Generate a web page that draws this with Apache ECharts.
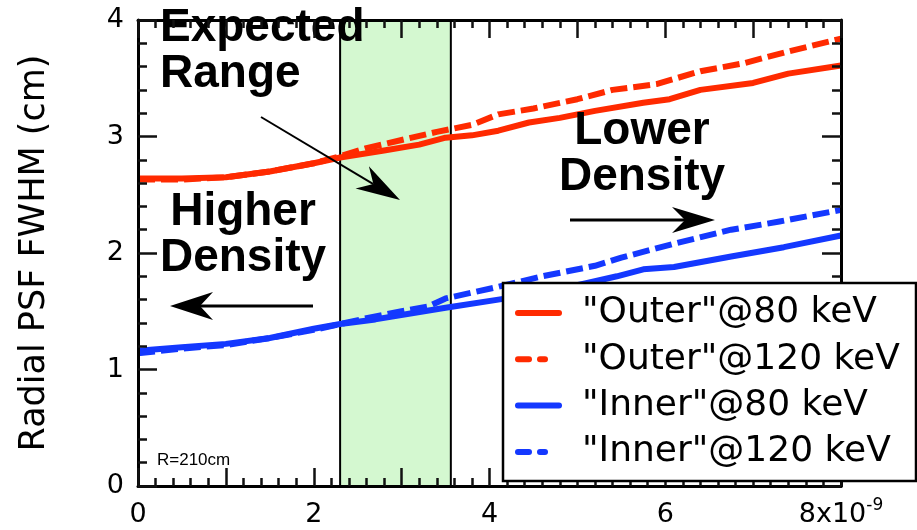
<!DOCTYPE html>
<html>
<head>
<meta charset="utf-8">
<script src="https://cdn.jsdelivr.net/npm/echarts@6/dist/echarts.min.js"></script>
<style>
  html, body { margin: 0; padding: 0; background: #fff; }
  .layer { width: 917px; height: 530px; position: absolute; left: 0; top: 0; }
</style>
</head>
<body>
<div class="layer" id="chart"></div>
<div class="layer" id="frame"></div>
<script>
// Density (x10^-9) versus radial PSF width (cm) for the two detector regions.
const outer80X  = [0, 0.5, 1.0, 1.5, 2.0, 2.3, 2.8, 3.2, 3.5, 3.8, 4.1, 4.45, 4.8, 5.2, 5.75, 6.05, 6.4, 7.0, 7.4, 8.0];
const outer80Y  = [2.64, 2.64, 2.65, 2.70, 2.77, 2.82, 2.88, 2.93, 2.99, 3.01, 3.05, 3.12, 3.16, 3.22, 3.29, 3.32, 3.40, 3.46, 3.54, 3.61];

const outer120X = [0, 0.5, 1.0, 1.5, 2.0, 2.3, 2.6, 3.0, 3.4, 3.8, 4.1, 4.5, 5.0, 5.4, 5.9, 6.4, 6.9, 7.4, 8.0];
const outer120Y = [2.63, 2.63, 2.65, 2.70, 2.77, 2.83, 2.90, 2.97, 3.04, 3.10, 3.19, 3.24, 3.32, 3.40, 3.45, 3.56, 3.63, 3.73, 3.84];

const inner80X  = [0, 0.5, 1.0, 1.5, 2.0, 2.3, 2.7, 3.1, 3.5, 4.1, 4.6, 5.1, 5.45, 5.75, 6.1, 6.75, 7.35, 8.0];
const inner80Y  = [1.16, 1.19, 1.22, 1.27, 1.35, 1.39, 1.43, 1.48, 1.53, 1.60, 1.66, 1.74, 1.80, 1.86, 1.88, 1.97, 2.05, 2.15];

const inner120X = [0, 0.5, 1.0, 1.5, 2.0, 2.3, 2.6, 3.0, 3.3, 3.5, 4.1, 4.6, 5.2, 5.5, 6.1, 6.75, 7.3, 8.0];
const inner120Y = [1.14, 1.18, 1.21, 1.27, 1.34, 1.39, 1.44, 1.50, 1.54, 1.61, 1.71, 1.80, 1.89, 1.96, 2.08, 2.20, 2.27, 2.37];

const seriesNames = ['"Outer"@80 keV', '"Outer"@120 keV', '"Inner"@80 keV', '"Inner"@120 keV'];
const xMantissa = '8x10';
const xExponent = '-9';
const expectedRange = [2.3, 3.56];

const RED = '#ff2a00';
const BLUE = '#1438ff';
const FONT = 'DejaVu Sans';
const BOLD = 'Liberation Sans';

const pairs = (xs, ys) => xs.map((x, i) => [x, ys[i]]);

// ---------- data layer: band, curves and annotations ----------
function lineSeries(name, data, color, dashed) {
  return {
    name, type: 'line', data, symbol: 'none', smooth: false, z: 3,
    lineStyle: { color, width: 6, type: dashed ? [17, 6] : 'solid', cap: 'butt', join: 'round' },
    itemStyle: { color }
  };
}

// Arrow built from a shaft and a notched head, in pixel space.
function arrow(x1, y1, x2, y2, headLen, headHalf, notch, width) {
  const dx = x2 - x1, dy = y2 - y1, L = Math.hypot(dx, dy);
  const ux = dx / L, uy = dy / L, nx = -uy, ny = ux;
  const bx = x2 - ux * headLen, by = y2 - uy * headLen;
  const kx = x2 - ux * (headLen - notch), ky = y2 - uy * (headLen - notch);
  return [
    { type: 'polyline', z: 10, shape: { points: [[x1, y1], [kx, ky]] }, style: { stroke: '#000', lineWidth: width, fill: null } },
    { type: 'polygon', z: 10, shape: { points: [[x2, y2], [bx + nx * headHalf, by + ny * headHalf], [kx, ky], [bx - nx * headHalf, by - ny * headHalf]] },
      style: { fill: '#000' } }
  ];
}

function boldText(x, y, text, align) {
  return {
    type: 'text', z: 10, x, y,
    style: { text, fill: '#000', font: 'bold 46px "' + BOLD + '"', lineHeight: 46, align, verticalAlign: 'top' }
  };
}

const hiddenAxis = (min, max) => ({
  type: 'value', min, max, interval: 1,
  axisLine: { show: false }, axisTick: { show: false }, axisLabel: { show: false }, splitLine: { show: false }
});

echarts.init(document.getElementById('chart')).setOption({
  animation: false,
  grid: { left: 138, right: 76, top: 20, bottom: 44 },
  xAxis: hiddenAxis(0, 8),
  yAxis: hiddenAxis(0, 4),
  series: [
    {
      name: 'band', type: 'line', data: [], z: 1,
      markArea: {
        silent: true,
        itemStyle: { color: '#d4f8d0', borderColor: '#000', borderWidth: 2 },
        data: [[{ xAxis: expectedRange[0], yAxis: 0 }, { xAxis: expectedRange[1], yAxis: 4 }]]
      }
    },
    lineSeries(seriesNames[0], pairs(outer80X, outer80Y), RED, false),
    lineSeries(seriesNames[1], pairs(outer120X, outer120Y), RED, true),
    lineSeries(seriesNames[2], pairs(inner80X, inner80Y), BLUE, false),
    lineSeries(seriesNames[3], pairs(inner120X, inner120Y), BLUE, true)
  ],
  graphic: [
    boldText(160, 5, 'Expected\nRange', 'left'),
    boldText(243, 189, 'Higher\nDensity', 'center'),
    boldText(642, 108, 'Lower\nDensity', 'center'),
    ...arrow(261, 117, 400, 200, 44, 13, 13, 2),
    ...arrow(313, 306, 170, 306, 43, 14, 13, 3),
    ...arrow(570, 220, 715, 220, 43, 13, 13, 3),
    { type: 'text', z: 10, x: 157, y: 460,
      style: { text: 'R=210cm', fill: '#000', font: '17px "Liberation Sans"', verticalAlign: 'middle' } }
  ]
});

// ---------- frame layer: boxed axes with inward ticks, and the key ----------
const tk = { color: '#111', width: 2.5 };

const xa = (pos, lab) => ({
  type: 'value', position: pos, min: 0, max: 8, interval: 1,
  axisLine: { show: true, onZero: false, lineStyle: { color: '#000', width: 3 } },
  axisTick: { show: true, inside: true, length: 18, lineStyle: tk },
  minorTick: { show: true, splitNumber: 5, length: 8, lineStyle: tk },
  splitLine: { show: false },
  axisLabel: !lab ? { show: false } : {
    show: true, margin: 11, color: '#000', fontFamily: FONT, fontSize: 27,
    formatter: v => (v % 2 ? '' : (v === 8 ? '{m|' + xMantissa + '}{e|' + xExponent + '}' : '{m|' + v + '}')),
    rich: {
      m: { fontFamily: FONT, fontSize: 27, lineHeight: 27, padding: [9, 0, 0, 0] },
      e: { fontFamily: FONT, fontSize: 17, lineHeight: 17, verticalAlign: 'top' }
    }
  }
});

const ya = (pos, lab) => {
  const a = {
    type: 'value', position: pos, min: 0, max: 4, interval: 1,
    axisLine: { show: true, onZero: false, lineStyle: { color: '#000', width: 3 } },
    axisTick: { show: true, inside: true, length: 19, lineStyle: tk },
    minorTick: { show: true, splitNumber: 5, length: 9, lineStyle: tk },
    splitLine: { show: false },
    axisLabel: !lab ? { show: false } : { show: true, margin: 14, color: '#000', fontFamily: FONT, fontSize: 27 }
  };
  if (lab) {
    a.name = 'Radial PSF FWHM (cm)';
    a.nameLocation = 'middle';
    a.nameGap = 86;
    a.nameRotate = 90;
    a.nameTextStyle = { fontFamily: FONT, fontSize: 35, color: '#000' };
  }
  return a;
};

// key rows: colour, dashed flag and text, stepping down the boxed key
const keyColors = [RED, RED, BLUE, BLUE];
const keyDashed = [false, true, false, true];
const keyRowTop = 313, keyRowStep = 46.3;

const keyGraphics = [
  { type: 'rect', z: 15, shape: { x: 503, y: 283, width: 413, height: 198 }, style: { fill: '#fff', stroke: '#000', lineWidth: 2.5 } }
];
seriesNames.forEach((name, i) => {
  const cy = keyRowTop + i * keyRowStep;
  const segs = keyDashed[i] ? [[515, 17], [537, 11]] : [[515, 47]];
  segs.forEach(([sx, w]) => keyGraphics.push({
    type: 'rect', z: 16, shape: { x: sx, y: cy - 3, width: w, height: 6, r: 3 }, style: { fill: keyColors[i] }
  }));
  keyGraphics.push({
    type: 'text', z: 16, x: 582, y: cy,
    style: { text: name, fill: '#000', font: '36px "' + FONT + '"', verticalAlign: 'middle' }
  });
});

echarts.init(document.getElementById('frame')).setOption({
  animation: false,
  grid: { left: 138, right: 76, top: 20, bottom: 44 },
  xAxis: [xa('bottom', true), xa('top', false)],
  yAxis: [ya('left', true), ya('right', false)],
  series: [],
  graphic: keyGraphics
});
</script>
</body>
</html>
